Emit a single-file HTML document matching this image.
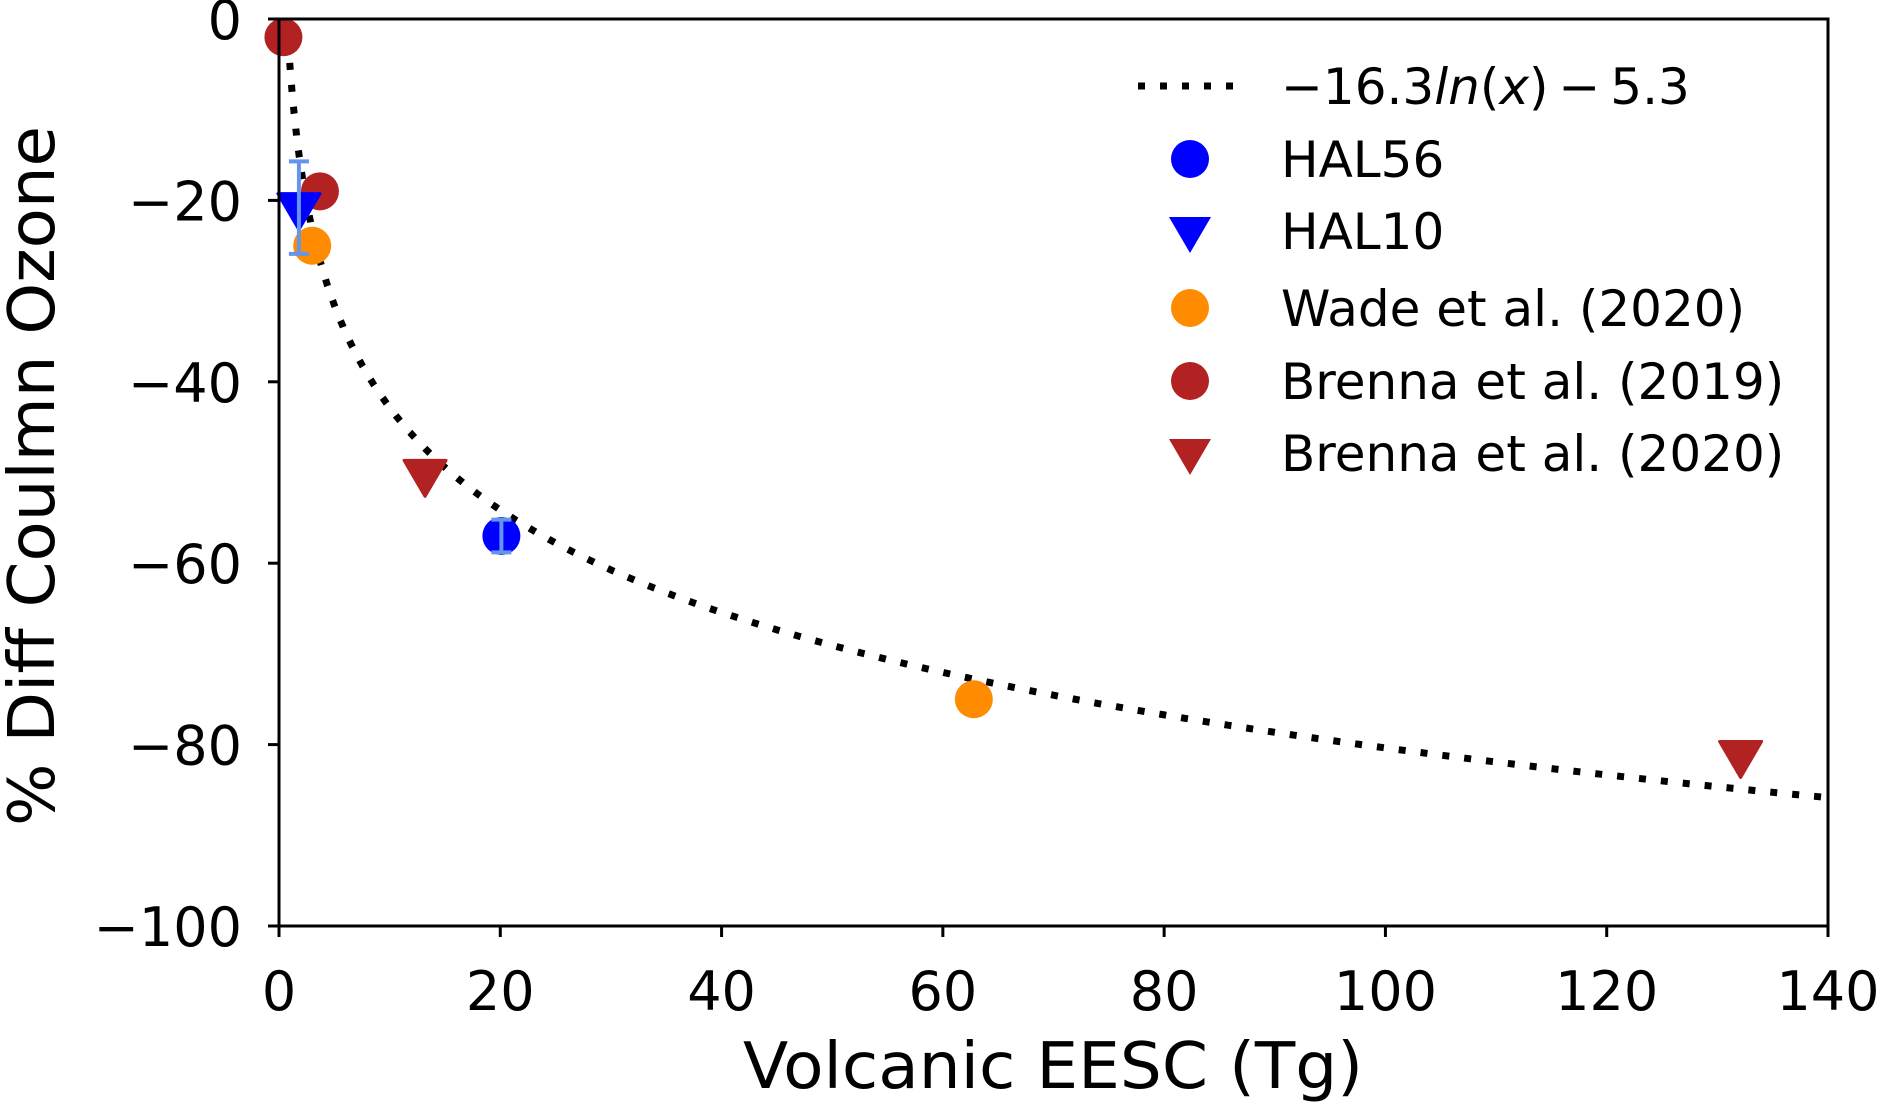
<!DOCTYPE html>
<html><head><meta charset="utf-8"><style>
html,body{margin:0;padding:0;background:#fff}
svg{display:block;font-family:"DejaVu Sans","Liberation Sans",sans-serif}
</style></head><body>
<svg id="chart" width="1878" height="1105" viewBox="0 0 1878 1105">
<g id="plot"></g>
</svg>
<script>
const xTicks=[0,20,40,60,80,100,120,140];
const yTicks=[0,-20,-40,-60,-80,-100];
const hal56X=[20.1], hal56Y=[-57], hal56Err=[1.8];
const hal10X=[1.8], hal10Y=[-20.8], hal10Err=[5.1];
const wadeX=[3.0,62.8], wadeY=[-25,-75];
const brenna19X=[0.4,3.7], brenna19Y=[-2,-19];
const brenna20X=[13.2,132.1], brenna20Y=[-50.2,-81.2];
const fitA=-16.3, fitB=-5.3;

const L=279,R=1828,T=19,B=926;
const sx=v=>L+(v-0)/140*(R-L);
const sy=v=>T+(0-v)/100*(B-T);
const g=document.getElementById('plot');
const NS='http://www.w3.org/2000/svg';
function mk(tag,attrs,parent){const e=document.createElementNS(NS,tag);for(const k in attrs)e.setAttribute(k,attrs[k]);(parent||g).appendChild(e);return e;}

let pts=[];
for(let i=0;i<=600;i++){const x=0.72*Math.pow(140/0.72,i/600);let y=fitA*Math.log(x)+fitB;if(y>0)y=0;pts.push(sx(x).toFixed(1)+','+sy(y).toFixed(1));}
const fl=mk('polyline',{points:pts.join(' '),fill:'none',stroke:'#000','stroke-width':7,'stroke-dasharray':'7 15'});



function circ(x,y,c,name){const e=mk('circle',{cx:sx(x),cy:sy(y),r:19,fill:c});}
function tri(x,y,c,name){const cx=sx(x),cy=sy(y);const e=mk('polygon',{points:`${cx-21},${cy-14} ${cx+21},${cy-14} ${cx},${cy+22}`,fill:c,'stroke':c,'stroke-width':3,'stroke-linejoin':'round'});}
function err(x,y,e,name){const cx=sx(x);const a=mk('g',{stroke:'#6495ed','stroke-width':4});mk('line',{x1:cx,x2:cx,y1:sy(y+e),y2:sy(y-e)},a);mk('line',{x1:cx-10,x2:cx+10,y1:sy(y+e),y2:sy(y+e)},a);mk('line',{x1:cx-10,x2:cx+10,y1:sy(y-e),y2:sy(y-e)},a);}

brenna19X.forEach((x,i)=>circ(x,brenna19Y[i],'#b22222','brenna-2019-point'));
hal10X.forEach((x,i)=>tri(x,hal10Y[i],'#0000ff','hal10-point'));
wadeX.forEach((x,i)=>circ(x,wadeY[i],'#ff8c00','wade-2020-point'));
brenna20X.forEach((x,i)=>tri(x,brenna20Y[i],'#b22222','brenna-2020-point'));
hal56X.forEach((x,i)=>circ(x,hal56Y[i],'#0000ff','hal56-point'));
hal10X.forEach((x,i)=>err(x,hal10Y[i],hal10Err[i],'hal10-error-bar'));
hal56X.forEach((x,i)=>err(x,hal56Y[i],hal56Err[i],'hal56-error-bar'));

const fr=mk('rect',{x:L,y:T,width:R-L,height:B-T,fill:'none',stroke:'#000','stroke-width':3});


xTicks.forEach(v=>{mk('line',{x1:sx(v),x2:sx(v),y1:B,y2:B+11,stroke:'#000','stroke-width':3});const t=mk('text',{x:sx(v),y:1010,'text-anchor':'middle','font-size':54});t.textContent=v;});
yTicks.forEach(v=>{mk('line',{x1:L-11,x2:L,y1:sy(v),y2:sy(v),stroke:'#000','stroke-width':3});const t=mk('text',{x:242,y:sy(v)+20,'text-anchor':'end','font-size':54});t.textContent=v===0?'0':'\u2212'+Math.abs(v);});

const lg=mk('g',{});


const rows=[86,159,231,308,381,453];
mk('line',{x1:1138,x2:1246,y1:rows[0],y2:rows[0],stroke:'#000','stroke-width':7,'stroke-dasharray':'7 15'},lg);
const labels=['\u221216.3ln(x) \u2212 5.3','HAL56','HAL10','Wade et al. (2020)','Brenna et al. (2019)','Brenna et al. (2020)'];
const mx=1190;
mk('circle',{cx:mx,cy:rows[1],r:19,fill:'#0000ff'},lg);
mk('polygon',{points:`${mx-21},${rows[2]-14} ${mx+21},${rows[2]-14} ${mx},${rows[2]+22}`,fill:'#0000ff'},lg);
mk('circle',{cx:mx,cy:rows[3],r:19,fill:'#ff8c00'},lg);
mk('circle',{cx:mx,cy:rows[4],r:19,fill:'#b22222'},lg);
mk('polygon',{points:`${mx-21},${rows[5]-14} ${mx+21},${rows[5]-14} ${mx},${rows[5]+22}`,fill:'#b22222'},lg);
labels.forEach((s,i)=>{const t=mk('text',{x:1281,y:rows[i]+18,'font-size':50},lg);
 if(i===0){t.innerHTML='\u221216.3<tspan font-style="italic">ln</tspan>(<tspan font-style="italic">x</tspan>)\u2009\u2212\u20095.3';}else t.textContent=s;
 });

const xt=mk('text',{x:1053,y:1088,'text-anchor':'middle','font-size':64,textLength:620,lengthAdjust:'spacingAndGlyphs'});
xt.textContent='Volcanic EESC (Tg)';


const yt=mk('text',{x:0,y:0,'text-anchor':'middle','font-size':64,transform:'translate(54,476) rotate(-90)',textLength:700,lengthAdjust:'spacingAndGlyphs'});
yt.textContent='% Diff Coulmn Ozone';


</script>
</body></html>
